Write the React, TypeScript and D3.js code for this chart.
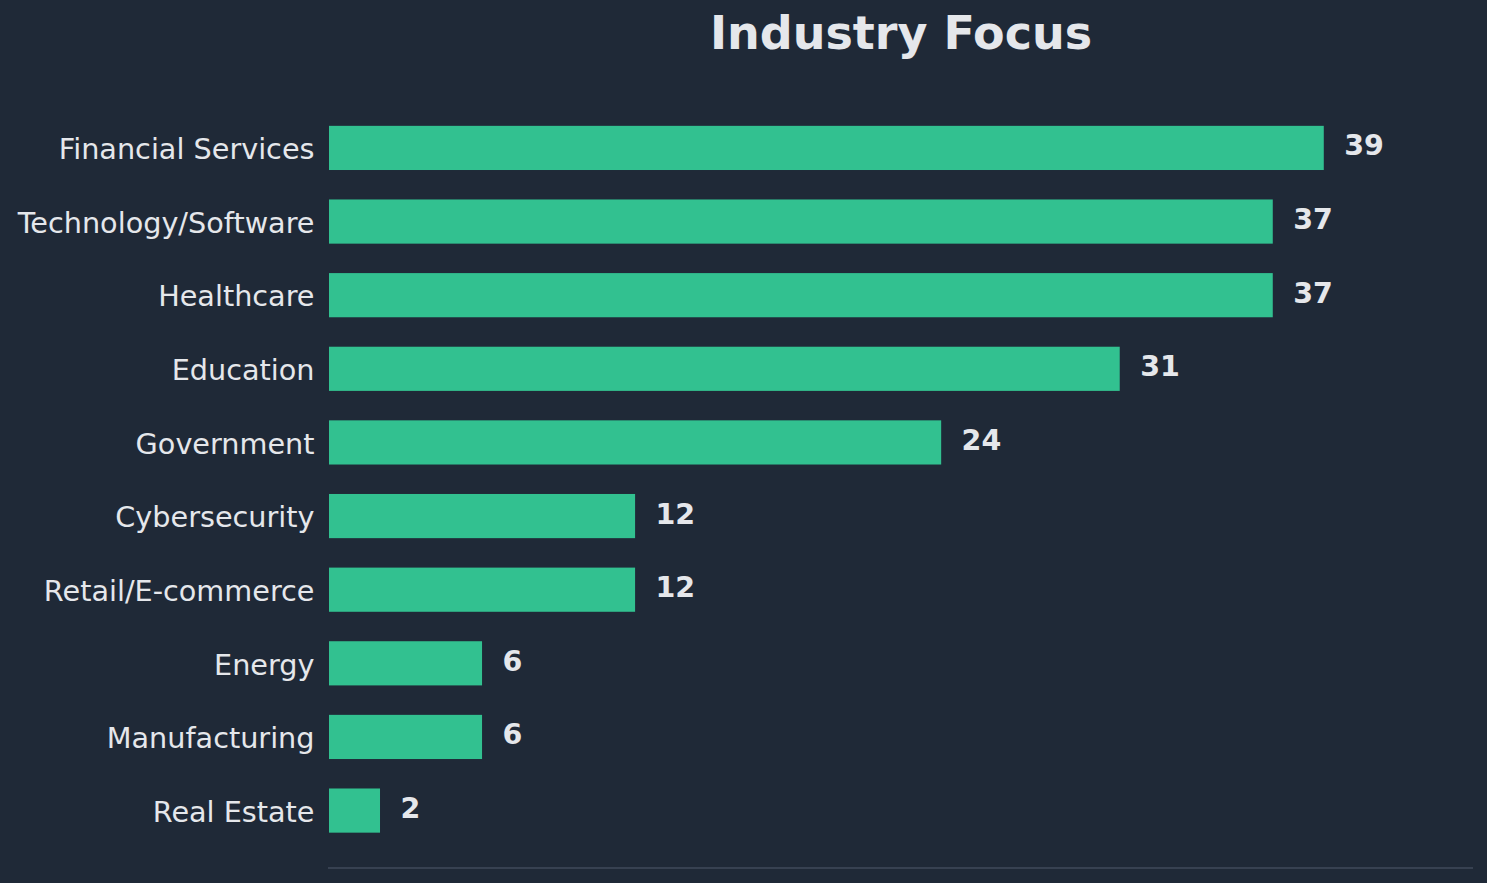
import React from "react";
import * as d3 from "d3";

const industries = [
  "Financial Services",
  "Technology/Software",
  "Healthcare",
  "Education",
  "Government",
  "Cybersecurity",
  "Retail/E-commerce",
  "Energy",
  "Manufacturing",
  "Real Estate",
];
const counts = [39, 37, 37, 31, 24, 12, 12, 6, 6, 2];

const width = 1487;
const height = 883;
const margin = { top: 90.5, right: 14, bottom: 15, left: 329 };
const bg = "#1f2937";
const barColor = "#32c190";
const textColor = "#e5e7eb";

export default function App() {
  const x = d3
    .scaleLinear()
    .domain([0, d3.max(counts)! * 1.15])
    .range([margin.left, width - margin.right]);

  // bars are 0.6 of a slot, with 0.78 slot padding top and bottom
  const slot = (height - margin.bottom - margin.top) / (industries.length - 1 + 2 * 0.78);
  const y = d3
    .scalePoint<string>()
    .domain(industries)
    .range([margin.top + 0.78 * slot, height - margin.bottom - 0.78 * slot]);
  const barH = slot * 0.6;

  return (
    <svg
      width={width}
      height={height}
      style={{ display: "block", position: "absolute", left: 0, top: 0, background: bg }}
      fontFamily="DejaVu Sans, sans-serif"
    >
      <rect width={width} height={height} fill={bg} />
      <text x={(x.range()[0] + x.range()[1]) / 2} y={49} textAnchor="middle" fill={textColor} fontSize={46} fontWeight="bold">
        Industry Focus
      </text>
      {industries.map((name, i) => {
        const cy = y(name)!;
        return (
          <g key={name}>
            <rect x={x(0)} y={cy - barH / 2} width={x(counts[i]) - x(0)} height={barH} fill={barColor} />
            <text x={x(0) - 14.5} y={cy + 11.3} textAnchor="end" fill={textColor} fontSize={28.7}>
              {name}
            </text>
            <text x={x(counts[i] + 0.8)} y={cy + 7.5} fill={textColor} fontSize={28.5} fontWeight="bold">
              {counts[i]}
            </text>
          </g>
        );
      })}
      <line
        x1={x.range()[0] - 1}
        x2={x.range()[1]}
        y1={height - margin.bottom}
        y2={height - margin.bottom}
        stroke="#374151"
        strokeWidth={2}
      />
    </svg>
  );
}
